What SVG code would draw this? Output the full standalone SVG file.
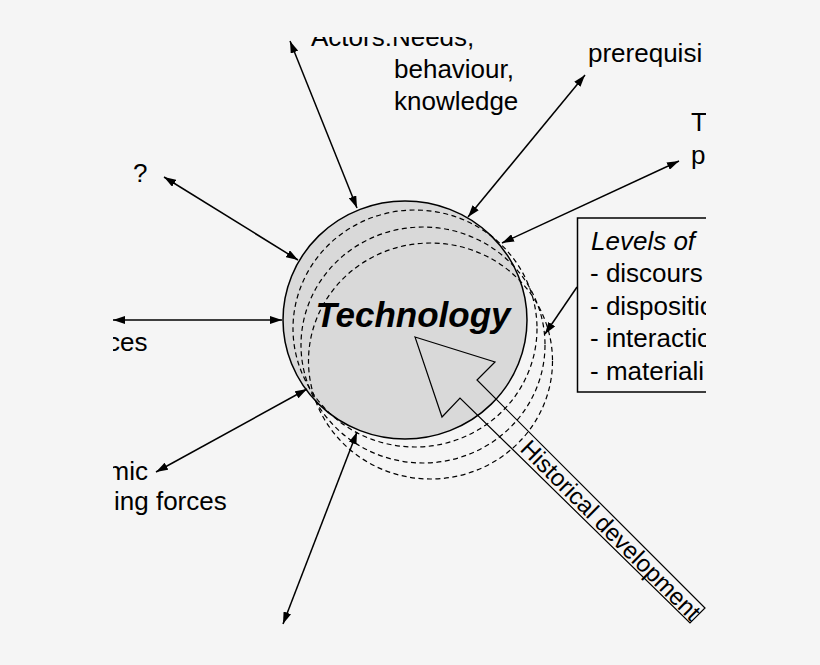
<svg xmlns="http://www.w3.org/2000/svg" width="820" height="665" viewBox="0 0 820 665">
<style>
text{font-family:"Liberation Sans",Arial,sans-serif;font-size:26px;fill:#000}
text.tech{font-size:35px;font-weight:bold;font-style:italic}
text.hist{font-size:24px}
text.it{font-style:italic}
.ln{stroke:#000;stroke-width:1.5;fill:none}
.dash{stroke:#000;stroke-width:1.2;fill:none;stroke-dasharray:5 3.5}
</style>
<defs>
<marker id="ah" viewBox="0 0 12 8" markerWidth="12" markerHeight="8" refX="12" refY="4" orient="auto-start-reverse" markerUnits="userSpaceOnUse">
<path d="M0,0 L12,4 L0,8 z" fill="#000"/>
</marker>
<clipPath id="frame"><rect x="113" y="37" width="593" height="628"/></clipPath>
</defs>
<rect width="820" height="665" fill="#f5f5f5"/>
<g clip-path="url(#frame)">
<g id="technology">
<ellipse cx="405" cy="320" rx="122" ry="119" fill="#d9d9d9" stroke="#000" stroke-width="1.5"/>
<ellipse class="dash" cx="415" cy="328.5" rx="122" ry="118.5"/>
<ellipse class="dash" cx="423" cy="345" rx="122" ry="118"/>
<ellipse class="dash" cx="430.5" cy="361" rx="122" ry="118"/>
<text class="tech" x="413" y="327" text-anchor="middle">Technology</text>
</g>
<g id="historical">
<polygon points="415,337 495,362 477,380 705,608 690,623 460,398 442,417" fill="none" stroke="#000" stroke-width="1.2"/>
<text class="hist" transform="translate(519,450) rotate(45)">Historical development</text>
</g>
<g id="actors">
<text x="311" y="46">Actors:Needs,</text>
<text x="394" y="78">behaviour,</text>
<text x="394" y="110">knowledge</text>
</g>
<g id="prerequisites"><text x="588" y="62">prerequisi</text></g>
<g id="tp"><text x="691" y="131">T</text><text x="691" y="164">p</text></g>
<g id="question"><text x="133" y="182">?</text></g>
<g id="forces"><text x="107" y="351">ces</text></g>
<g id="economic"><text x="107.5" y="480">mic</text><text x="114" y="510">ing forces</text></g>
<g id="levels">
<rect x="577.5" y="218" width="140" height="174" fill="none" stroke="#000" stroke-width="1.5"/>
<text class="it" x="591" y="250">Levels of</text>
<text x="590" y="282">- discours</text>
<text x="590" y="315">- dispositio</text>
<text x="590" y="347">- interactio</text>
<text x="590" y="380">- materiali</text>
</g>
<g id="connectors" class="ln">
<line x1="290" y1="41" x2="357" y2="208" marker-start="url(#ah)" marker-end="url(#ah)"/>
<line x1="585" y1="75" x2="468" y2="217" marker-start="url(#ah)" marker-end="url(#ah)"/>
<line x1="679" y1="161" x2="502" y2="243" marker-start="url(#ah)" marker-end="url(#ah)"/>
<line x1="164" y1="177" x2="298" y2="260" marker-start="url(#ah)" marker-end="url(#ah)"/>
<line x1="113" y1="320" x2="282" y2="320" marker-start="url(#ah)" marker-end="url(#ah)"/>
<line x1="156" y1="472" x2="307" y2="389" marker-start="url(#ah)" marker-end="url(#ah)"/>
<line x1="283" y1="624" x2="357" y2="432" marker-start="url(#ah)" marker-end="url(#ah)"/>
<line x1="577" y1="287" x2="545" y2="334" marker-end="url(#ah)"/>
</g>
</g>
</svg>
